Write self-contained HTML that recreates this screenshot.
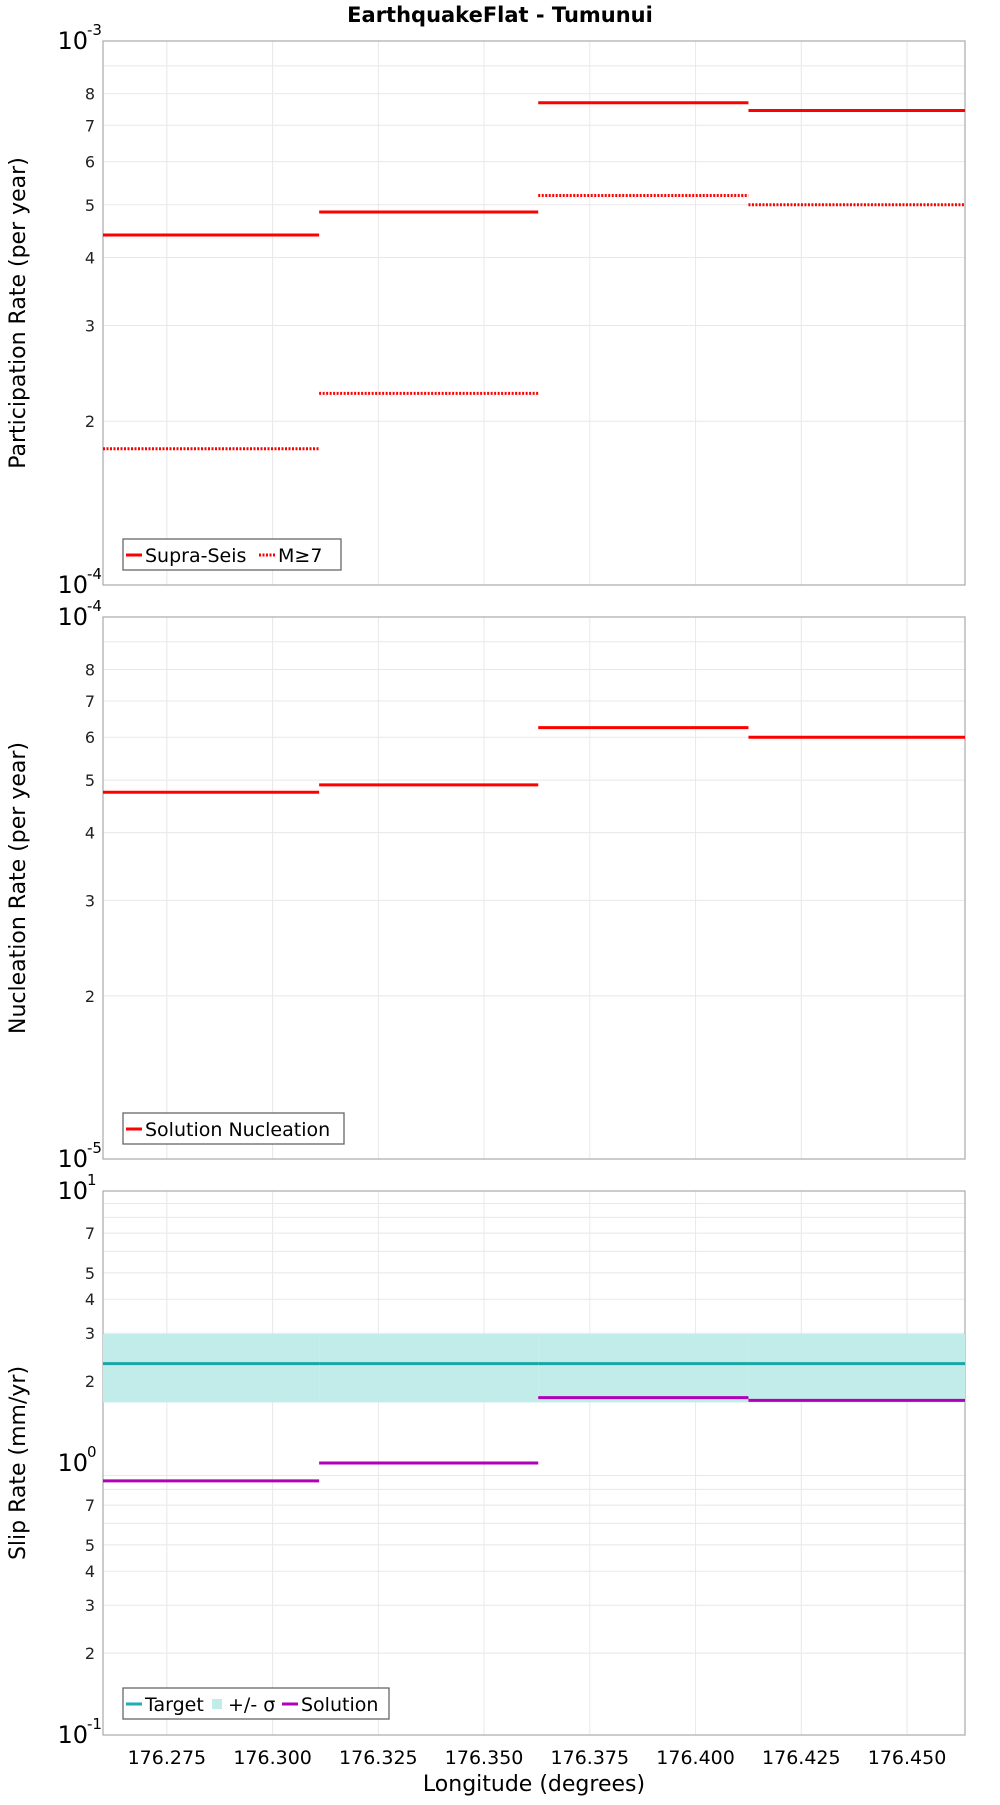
<!DOCTYPE html>
<html><head><meta charset="utf-8">
<style>
html,body{margin:0;padding:0;background:#fff;}
svg text{font-family:"DejaVu Sans","Liberation Sans",sans-serif;}
</style></head>
<body>
<svg id="chart" width="1000" height="1800" xmlns="http://www.w3.org/2000/svg">
<text x="500" y="22" text-anchor="middle" font-size="21" font-weight="bold">EarthquakeFlat - Tumunui</text>
<text x="534" y="1791" text-anchor="middle" font-size="22">Longitude (degrees)</text>
</svg>
<script>
const xEdges = [176.2599, 176.311, 176.3628, 176.4125, 176.4637];
const xTicks = [176.275, 176.300, 176.325, 176.350, 176.375, 176.400, 176.425, 176.450];
const xTickLabels = ["176.275","176.300","176.325","176.350","176.375","176.400","176.425","176.450"];
const partSupra = [4.4e-4, 4.85e-4, 7.7e-4, 7.45e-4];
const partM7 = [1.78e-4, 2.25e-4, 5.2e-4, 5.0e-4];
const nucl = [4.75e-5, 4.9e-5, 6.25e-5, 6.0e-5];
const slipTarget = [2.32, 2.32, 2.32, 2.32];
const slipLow = [1.67, 1.67, 1.67, 1.67];
const slipHigh = [2.98, 2.98, 2.98, 2.98];
const slipSolution = [0.86, 1.0, 1.74, 1.7];

const NS = "http://www.w3.org/2000/svg";
const svg = document.getElementById('chart');
const L = 103, R = 965;
function X(v){ return L + (v - xEdges[0]) / (xEdges[xEdges.length-1] - xEdges[0]) * (R - L); }
function mk(tag, attrs, parent){
  const e = document.createElementNS(NS, tag);
  for (const k in attrs) e.setAttribute(k, attrs[k]);
  (parent||svg).appendChild(e);
  return e;
}
function panel(top, bottom, decLo, decHi, labelsMinor, title, titleName){
  const Y = v => bottom - (Math.log10(v) - decLo) / (decHi - decLo) * (bottom - top);
  const g = mk('g', {});
  
  
  for (let d = decLo; d < decHi; d++){
    for (let m = 1; m <= 10; m++){
      const v = m * Math.pow(10, d);
      const y = Y(v);
      if (m > 1 && m < 10) {
        const gl = mk('line', {x1:L, x2:R, y1:y, y2:y, stroke:'#e8e8e8', 'stroke-width':1}, g);
        
        
        if (labelsMinor.includes(m)) {
          const t = mk('text', {x:95, y:y+6, 'text-anchor':'end', 'font-size':16, fill:'#222'}, g);
          
          
          t.textContent = m;
        }
      }
    }
  }
  for (let d = decLo; d <= decHi; d++){
    const y = Y(Math.pow(10, d));
    const t = mk('text', {x:88, y:y+8, 'text-anchor':'end', 'font-size':24, fill:'#000'}, g);
    
    
    t.textContent = '10';
    const s = mk('text', {x:87, y:y-6, 'text-anchor':'start', 'font-size':15, fill:'#000'}, g);
    
    
    s.textContent = String(d);
  }
  xTicks.forEach(v => {
    const gl = mk('line', {x1:X(v), x2:X(v), y1:top, y2:bottom, stroke:'#e8e8e8', 'stroke-width':1}, g);
    
    
  });
  const fr = mk('rect', {x:L, y:top, width:R-L, height:bottom-top, fill:'none', stroke:'#aaa', 'stroke-width':1.2}, g);
  
  
  const tt = mk('text', {x:0, y:0, 'text-anchor':'middle', 'font-size':22, transform:`translate(25,${(top+bottom)/2}) rotate(-90)`}, g);
  
  
  tt.textContent = title;
  return {g, Y};
}
function steps(p, vals, color, dotted, name){
  vals.forEach((v,i) => {
    const y = p.Y(v);
    const a = {x1:X(xEdges[i]), x2:X(xEdges[i+1]), y1:y, y2:y, stroke:color, 'stroke-width':3};
    if (dotted) { a['stroke-dasharray'] = '2,1.5'; }
    const l = mk('line', a, p.g);
    
    
  });
}
function legend(p, x, y, w, items, name){
  const lg = mk('g', {}, p.g);
  
  
  const r = mk('rect', {x:x, y:y, width:w, height:31, fill:'#fff', stroke:'#666', 'stroke-width':1.3}, lg);
  
  
  let cx = x + 3;
  items.forEach(it => {
    const cy = y + 16;
    let sym;
    if (it.type === 'box') sym = mk('rect', {x:cx+3, y:cy-5, width:10, height:10, fill:it.color}, lg);
    else {
      const a = {x1:cx, x2:cx+16, y1:cy, y2:cy, stroke:it.color, 'stroke-width':3};
      if (it.type === 'dot') a['stroke-dasharray'] = '2,1.5';
      sym = mk('line', a, lg);
    }
    
    
    const t = mk('text', {x:cx+19, y:cy+7, 'font-size':19}, lg);
    
    
    t.textContent = it.label;
    cx += 19 + it.w;
  });
}

const p1 = panel(41, 585, -4, -3, [2,3,4,5,6,7,8], 'Participation Rate (per year)', 'participation');
steps(p1, partSupra, '#ff0000', false, 'supra-seis-step');
steps(p1, partM7, '#ff0000', true, 'm7-step');
legend(p1, 123, 539, 218, [{type:'line',color:'#f00',label:'Supra-Seis',w:114},{type:'dot',color:'#f00',label:'M≥7',w:50}], 'participation-legend');

const p2 = panel(617, 1159, -5, -4, [2,3,4,5,6,7,8], 'Nucleation Rate (per year)', 'nucleation');
steps(p2, nucl, '#ff0000', false, 'nucleation-step');
legend(p2, 123, 1113, 221, [{type:'line',color:'#f00',label:'Solution Nucleation',w:190}], 'nucleation-legend');

const p3 = panel(1191, 1735, -1, 1, [2,3,4,5,7], 'Slip Rate (mm/yr)', 'slip-rate');
slipHigh.forEach((v,i) => {
  const b = mk('rect', {x:X(xEdges[i]), y:p3.Y(v), width:X(xEdges[i+1])-X(xEdges[i]), height:p3.Y(slipLow[i])-p3.Y(v), fill:'#c2ecea'}, p3.g);
  
  
});
steps(p3, slipTarget, '#1aa6a6', false, 'target-step');
steps(p3, slipSolution, '#b000b8', false, 'solution-step');
legend(p3, 123, 1688, 266, [{type:'line',color:'#1ab0b0',label:'Target',w:64},{type:'box',color:'#c2ecea',label:'+/- σ',w:54},{type:'line',color:'#b000b8',label:'Solution',w:86}], 'slip-legend');

xTicks.forEach((v,i) => {
  const t = mk('text', {x:X(v), y:1764, 'text-anchor':'middle', 'font-size':19});
  
  
  t.textContent = xTickLabels[i];
});
</script>
</body></html>
